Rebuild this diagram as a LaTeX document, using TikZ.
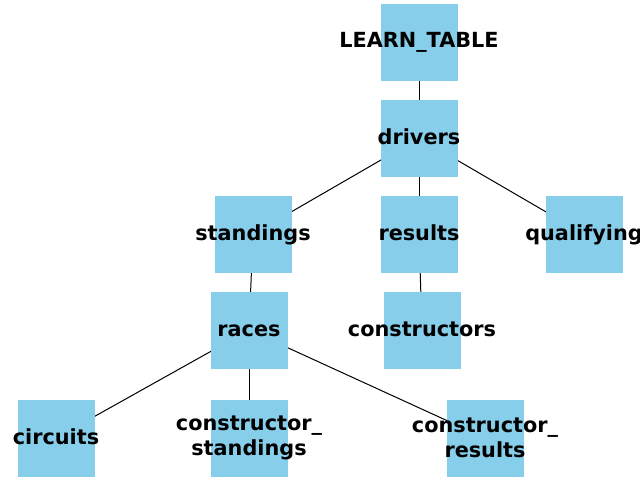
\documentclass[tikz,border=0pt]{standalone}
\usepackage{fontspec}
\setmainfont{DejaVu Sans}
\usetikzlibrary{backgrounds}
\definecolor{boxblue}{RGB}{135,206,235}
\tikzset{
  tbl/.style={fill=boxblue, minimum size=77pt, inner sep=0pt, outer sep=0pt},
  lbl/.style={font=\fontsize{20.8}{25}\selectfont\bfseries, align=center, inner sep=0pt},
  oneline/.style={text height=15.8pt, text depth=3.7pt},
  link/.style={draw=black, line width=1pt}
}
% table box: name, x, y, label options, label text
\newcommand{\tbox}[5]{\node[tbl, label={[lbl,#4]center:#5}] (#1) at (#2,#3) {};}
\begin{document}
\begin{tikzpicture}[x=1pt, y=-1pt]
  \useasboundingbox (0,0) rectangle (640,480);
  \tbox{learn}{419}{42}{}{LEARN\_TABLE}
  \tbox{drivers}{419}{138}{oneline}{drivers}
  \tbox{standings}{253}{234}{oneline}{standings}
  \tbox{results}{419}{234}{oneline}{results}
  \tbox{qualifying}{584}{234}{oneline}{qualifying}
  \tbox{races}{249}{330}{oneline}{races}
  \tbox{constructors}{422}{330}{oneline}{constructors}
  \tbox{circuits}{56}{438}{oneline}{circuits}
  \tbox{cstandings}{249}{438}{}{constructor\_\\standings}
  \tbox{cresults}{485}{438}{}{constructor\_\\results}
  \begin{pgfonlayer}{background}
    \draw[link] (learn.center) -- (drivers.center);
    \draw[link] (drivers.center) -- (standings.center);
    \draw[link] (drivers.center) -- (results.center);
    \draw[link] (drivers.center) -- (qualifying.center);
    \draw[link] (standings.center) -- (races.center);
    \draw[link] (results.center) -- (constructors.center);
    \draw[link] (races.center) -- (circuits.center);
    \draw[link] (races.center) -- (cstandings.center);
    \draw[link] (races.center) -- (cresults.center);
  \end{pgfonlayer}
\end{tikzpicture}
\end{document}
